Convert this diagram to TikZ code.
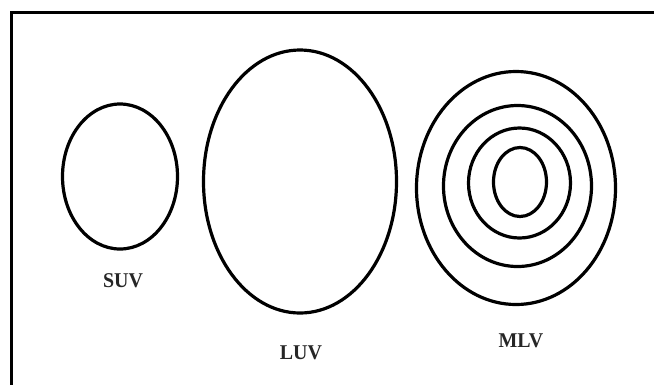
\documentclass[tikz,border=0pt]{standalone}
\usepackage{fontspec}
\setmainfont{Liberation Serif}
\begin{document}
\begin{tikzpicture}[x=1pt,y=-1pt,
  ring/.style={draw=black,line width=3.2pt},
  lbl/.style={font=\fontsize{21}{23}\selectfont\bfseries,text=black!85,inner sep=0pt,xscale=0.95}]
\useasboundingbox (0,0) rectangle (654,384);
\fill[white] (0,0) rectangle (654,384);
\draw[line width=3pt] (11,390) -- (11,12) -- (660,12);
% SUV
\draw[ring] (120,176.5) ellipse [x radius=57.5, y radius=72.5];
% LUV
\draw[ring] (300,181.5) ellipse [x radius=96.5, y radius=131.5];
% MLV
\draw[ring] (516,188) ellipse [x radius=99.5, y radius=116.5];
\draw[ring] (517.5,186) ellipse [x radius=74, y radius=80.5];
\draw[ring] (519.5,183) ellipse [x radius=51, y radius=55];
\draw[ring] (520,182) ellipse [x radius=26.5, y radius=34.5];
\node[lbl] (suv) at (123,281) {SUV};
\node[lbl] (luv) at (301,353) {LUV};
\node[lbl] (mlv) at (521,341) {MLV};
\end{tikzpicture}
\end{document}
